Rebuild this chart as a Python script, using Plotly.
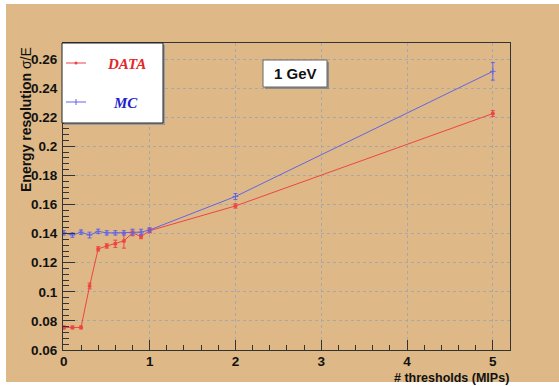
import plotly.graph_objects as go

# Energy resolution vs. number of thresholds, 1 GeV
thresholds = [0, 0.1, 0.2, 0.3, 0.4, 0.5, 0.6, 0.7, 0.8, 0.9, 1.0, 2.0, 5.0]
data_res = [0.0755, 0.0755, 0.0755, 0.104, 0.1295, 0.1315, 0.133, 0.135, 0.1405, 0.138, 0.142, 0.159, 0.2225]
data_err = [0.001, 0.001, 0.001, 0.002, 0.0015, 0.0015, 0.0025, 0.005, 0.002, 0.0015, 0.0015, 0.0015, 0.002]
mc_res = [0.1405, 0.139, 0.141, 0.139, 0.1415, 0.1405, 0.1405, 0.1405, 0.141, 0.141, 0.1425, 0.1655, 0.2515]
mc_err = [0.0015, 0.0015, 0.0015, 0.002, 0.0015, 0.0015, 0.0015, 0.0015, 0.002, 0.002, 0.0015, 0.002, 0.006]

x_ticks = [0, 1, 2, 3, 4, 5]
y_ticks = [0.06, 0.08, 0.1, 0.12, 0.14, 0.16, 0.18, 0.2, 0.22, 0.24, 0.26]

W, H = 559, 386
ML, MR, MT, MB = 63, 49, 43, 36
PW, PH = W - ML - MR, H - MT - MB

RED = "#ee4444"
BLUE = "#6464e6"
TAN = "#deb987"


def px(x):
    return (x - ML) / PW


def py(y):
    return (H - MB - y) / PH


fig = go.Figure()

fig.add_trace(go.Scatter(
    x=thresholds, y=data_res, mode="lines+markers", name="DATA",
    line=dict(color=RED, width=1),
    marker=dict(color=RED, size=4),
    error_y=dict(type="data", array=data_err, color=RED, thickness=1, width=2),
    showlegend=False,
))
fig.add_trace(go.Scatter(
    x=thresholds, y=mc_res, mode="lines+markers", name="MC",
    line=dict(color=BLUE, width=1),
    marker=dict(color=BLUE, size=4, symbol="cross-thin", line=dict(color=BLUE, width=1)),
    error_y=dict(type="data", array=mc_err, color=BLUE, thickness=1, width=2),
    showlegend=False,
))

shapes = [
    # tan canvas with thin white margin on the left, top and bottom
    dict(type="rect", xref="paper", yref="paper", layer="below",
         x0=px(6), x1=px(W + 2), y0=py(382), y1=py(4),
         fillcolor=TAN, line=dict(width=0)),
    # legend box shadow and box
    dict(type="rect", xref="paper", yref="paper",
         x0=px(64), x1=px(165), y0=py(125), y1=py(45),
         fillcolor="#9a9a9a", line=dict(width=0)),
    dict(type="rect", xref="paper", yref="paper",
         x0=px(62), x1=px(163), y0=py(123), y1=py(43),
         fillcolor="white", line=dict(color="#222222", width=1)),
    # legend samples
    dict(type="line", xref="paper", yref="paper",
         x0=px(66), x1=px(86), y0=py(63), y1=py(63), line=dict(color=RED, width=1)),
    dict(type="line", xref="paper", yref="paper",
         x0=px(66), x1=px(86), y0=py(102), y1=py(102), line=dict(color=BLUE, width=1)),
    dict(type="circle", xref="paper", yref="paper",
         x0=px(74.5), x1=px(77.5), y0=py(64.5), y1=py(61.5),
         fillcolor=RED, line=dict(width=0)),
    dict(type="line", xref="paper", yref="paper",
         x0=px(76), x1=px(76), y0=py(99), y1=py(105), line=dict(color=BLUE, width=1)),
    # "1 GeV" label box with shadow
    dict(type="rect", xref="paper", yref="paper",
         x0=px(265), x1=px(329), y0=py(89), y1=py(62),
         fillcolor="#8a8a8a", line=dict(width=0)),
    dict(type="rect", xref="paper", yref="paper",
         x0=px(263), x1=px(327), y0=py(87), y1=py(60),
         fillcolor="white", line=dict(color="#666666", width=1)),
]


def label(text, x, y, size, color="#111111", family="Liberation Sans", angle=0,
          xanchor="center"):
    return dict(text=text, xref="paper", yref="paper", x=px(x), y=py(y),
                xanchor=xanchor, yanchor="middle", textangle=angle,
                showarrow=False, font=dict(family=family, size=size, color=color))


annotations = [
    label("<b><i>DATA</i></b>", 126, 64, 15, "#e02828", "Liberation Serif"),
    label("<b><i>MC</i></b>", 125, 103, 15, "#2222cc", "Liberation Serif"),
    label("<b>1 GeV</b>", 295, 73.5, 15),
    label("<b>Energy resolution</b> σ/E", 26, 120, 14, angle=-90),
    label("<b># thresholds (MIPs)</b>", 511, 377.5, 12.5, xanchor="right"),
]

tick_font = dict(family="Liberation Sans", size=13.5, color="#111111")

fig.update_layout(
    width=W, height=H,
    margin=dict(l=ML, r=MR, t=MT, b=MB, pad=0),
    paper_bgcolor="white",
    plot_bgcolor="#f4f4f4",
    shapes=shapes,
    annotations=annotations,
    showlegend=False,
    xaxis=dict(
        range=[-0.01, 5.2], tickvals=x_ticks, ticktext=[f"<b>{v}</b>" for v in x_ticks],
        tickfont=tick_font, ticks="inside", ticklen=10, tickcolor="#333333",
        minor=dict(dtick=0.2, tick0=0, ticks="inside", ticklen=5, tickcolor="#333333", showgrid=False),
        showgrid=True, gridcolor="#a8a8a8", griddash="dot", gridwidth=1,
        showline=True, linecolor="#333333", linewidth=1, mirror=True,
        zeroline=False, ticklabelstandoff=-1,
    ),
    yaxis=dict(
        range=[0.06, 0.271], tickvals=y_ticks, ticktext=[f"<b>{v:g}</b>" for v in y_ticks],
        tickfont=tick_font, ticks="inside", ticklen=12, tickcolor="#333333",
        minor=dict(dtick=0.004, tick0=0.06, ticks="inside", ticklen=6, tickcolor="#333333", showgrid=False),
        showgrid=True, gridcolor="#a8a8a8", griddash="dot", gridwidth=1,
        showline=True, linecolor="#333333", linewidth=1, mirror=True,
        zeroline=False, ticklabelstandoff=2,
    ),
)

fig.write_html("out.html")
